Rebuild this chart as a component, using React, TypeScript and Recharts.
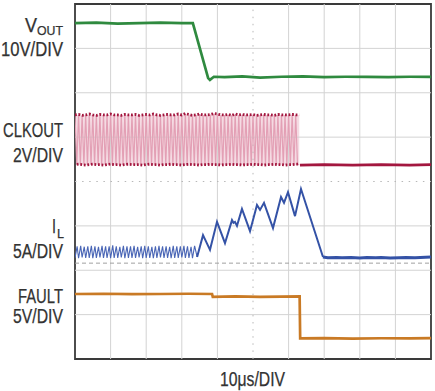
import React from 'react';
import { LineChart, Line, XAxis, YAxis, ReferenceLine, ReferenceArea } from 'recharts';

// screen is 10 divisions of 10us wide, 8 divisions tall (values below are in divisions)
const gridTimes = [10, 20, 30, 40, 60, 70, 80, 90];
const gridDivs = [1, 2, 3, 5, 6, 7];
const centerTime = 50;
const centerDiv = 4;
const ilZeroDiv = 2.16;

// VOUT, 10V/DIV
const voutTime = [0, 6, 12, 18, 24, 30, 33.1, 37.4, 37.9, 39.0, 42, 47, 52, 58, 64, 70, 76, 82, 88, 94, 100];
const voutDiv = [7.57, 7.58, 7.56, 7.57, 7.58, 7.57, 7.57, 6.33, 6.29, 6.36, 6.35, 6.37, 6.34, 6.36, 6.37, 6.35, 6.36, 6.36, 6.35, 6.36, 6.36];

// CLKOUT, 2V/DIV : one high and one low reading per 1us switching cycle
const clkHigh = [
  5.5, 5.51, 5.49, 5.5, 5.52, 5.5, 5.49, 5.51, 5.5, 5.5,
  5.52, 5.5, 5.5, 5.49, 5.51, 5.5, 5.5, 5.51, 5.49, 5.5,
  5.51, 5.5, 5.52, 5.5, 5.49, 5.5, 5.51, 5.5, 5.5, 5.52,
  5.5, 5.53, 5.51, 5.49, 5.5, 5.52, 5.5, 5.5, 5.51, 5.53,
  5.52, 5.5, 5.5, 5.51, 5.49, 5.52, 5.5, 5.51, 5.5, 5.5,
  5.51, 5.49, 5.5, 5.51, 5.5, 5.5, 5.49, 5.51, 5.5, 5.5,
  5.5, 5.51, 5.5,
];
const clkLow = [
  4.38, 4.39, 4.38, 4.37, 4.38, 4.39, 4.38, 4.38, 4.37, 4.38,
  4.39, 4.38, 4.38, 4.37, 4.38, 4.39, 4.38, 4.38, 4.38, 4.37,
  4.38, 4.39, 4.38, 4.38, 4.37, 4.38, 4.38, 4.39, 4.38, 4.38,
  4.37, 4.38, 4.39, 4.38, 4.38, 4.37, 4.38, 4.38, 4.39, 4.38,
  4.38, 4.37, 4.38, 4.38, 4.39, 4.38, 4.38, 4.37, 4.38, 4.38,
  4.39, 4.38, 4.38, 4.37, 4.38, 4.38, 4.39, 4.38, 4.38, 4.37,
  4.38, 4.38, 4.39,
];
const clkPeriod = 1;
const clkIdleTime = [63.2, 70, 78, 86, 94, 100];
const clkIdleDiv = [4.37, 4.38, 4.37, 4.38, 4.37, 4.38];

// IL, 5A/DIV : ripple before the fault, then the current-limit staircase and decay
const ilPeak = [
  2.54, 2.55, 2.53, 2.54, 2.55, 2.54, 2.53, 2.55, 2.54, 2.54,
  2.56, 2.54, 2.53, 2.55, 2.54, 2.54, 2.55, 2.53, 2.54, 2.55,
  2.54, 2.53, 2.54, 2.55, 2.54, 2.54, 2.53, 2.55, 2.54, 2.54,
  2.55, 2.54, 2.53, 2.55,
];
const ilValley = [
  2.28, 2.27, 2.29, 2.28, 2.28, 2.27, 2.28, 2.29, 2.28, 2.28,
  2.27, 2.28, 2.28, 2.29, 2.27, 2.28, 2.28, 2.28, 2.29, 2.27,
  2.28, 2.28, 2.27, 2.28, 2.29, 2.28, 2.28, 2.27, 2.28, 2.28,
  2.29, 2.28, 2.28, 2.27,
];
const ilEventTime = [34.3, 35.96, 37.92, 39.89, 42.13, 44.1, 44.52, 44.94, 45.5, 46.9, 49.16, 51.12, 51.97, 53.09, 55.62, 57.87, 58.71, 59.83, 61.8, 63.48, 69.66];
const ilEventDiv = [2.3, 2.79, 2.46, 3.09, 2.61, 3.13, 3.07, 3.09, 3.0, 3.38, 2.88, 3.47, 3.36, 3.52, 2.95, 3.65, 3.52, 3.76, 3.22, 3.83, 2.3];
const ilTailTime = [69.66, 71, 73.5, 75, 77.5, 80, 82, 84.5, 86, 88.5, 91, 93, 95.5, 97, 100];
const ilTailDiv = [2.3, 2.28, 2.29, 2.28, 2.285, 2.275, 2.285, 2.28, 2.29, 2.275, 2.28, 2.285, 2.28, 2.29, 2.3];

// FAULT, 5V/DIV
const faultTime = [0, 8, 16, 24, 32, 38.5, 38.7, 45, 52, 58, 63.1, 63.25, 70, 78, 86, 94, 100];
const faultDiv = [1.465, 1.47, 1.46, 1.465, 1.47, 1.465, 1.4, 1.41, 1.4, 1.405, 1.41, 0.466, 0.47, 0.46, 0.468, 0.465, 0.47];

const pairs = (ts: number[], vs: number[]) => ts.map((t, i) => ({ t, v: vs[i] }));

const voutData = pairs(voutTime, voutDiv);
const faultData = pairs(faultTime, faultDiv);

// clock: pale edges, dark dashed plateaus on top and bottom
const clkEdgeData: { t: number; v: number }[] = [];
const clkTopData: { t: number; v: number }[] = [];
const clkBottomData: { t: number; v: number }[] = [];
clkHigh.forEach((h, i) => {
  const t0 = i * clkPeriod;
  const half = clkPeriod / 2;
  clkEdgeData.push({ t: t0, v: h }, { t: t0 + half, v: clkLow[i] });
  clkTopData.push({ t: t0, v: h });
  clkBottomData.push({ t: t0, v: clkLow[i] });
});
clkEdgeData.push({ t: clkHigh.length * clkPeriod, v: clkIdleDiv[0] });
clkTopData.push({ t: clkHigh.length * clkPeriod, v: clkHigh[clkHigh.length - 1] });
clkBottomData.push({ t: clkHigh.length * clkPeriod, v: clkLow[clkLow.length - 1] });
const clkIdleData = pairs(clkIdleTime, clkIdleDiv);

const ilRippleData: { t: number; v: number }[] = [];
ilValley.forEach((lo, i) => {
  ilRippleData.push({ t: i * clkPeriod, v: lo }, { t: i * clkPeriod + 0.6, v: ilPeak[i] });
});
ilRippleData.push({ t: ilEventTime[0], v: ilEventDiv[0] });
const ilEventData = pairs(ilEventTime, ilEventDiv);
const ilTailData = pairs(ilTailTime, ilTailDiv);

const W = 435;
const H = 391;
const ink = '#333333';
const font = '"Liberation Sans", Arial, sans-serif';

const Labels = () => (
  <svg width={W} height={H} style={{ position: 'absolute', left: 0, top: 0, pointerEvents: 'none' }}>
    <g fill={ink} fontFamily={font} stroke={ink} strokeWidth={0.25}>
      <text x={25} y={32} fontSize={20} textLength={12} lengthAdjust="spacingAndGlyphs">V</text>
      <text x={37} y={35} fontSize={13} textLength={26} lengthAdjust="spacingAndGlyphs">OUT</text>
      <text x={1} y={56} fontSize={20} textLength={62} lengthAdjust="spacingAndGlyphs">10V/DIV</text>
      <text x={3} y={137} fontSize={20} textLength={60} lengthAdjust="spacingAndGlyphs">CLKOUT</text>
      <text x={13} y={162} fontSize={20} textLength={50} lengthAdjust="spacingAndGlyphs">2V/DIV</text>
      <text x={52} y={233} fontSize={20} textLength={4} lengthAdjust="spacingAndGlyphs">I</text>
      <text x={57} y={238} fontSize={13} textLength={7} lengthAdjust="spacingAndGlyphs">L</text>
      <text x={13} y={258} fontSize={20} textLength={50} lengthAdjust="spacingAndGlyphs">5A/DIV</text>
      <text x={18} y={303} fontSize={20} textLength={45} lengthAdjust="spacingAndGlyphs">FAULT</text>
      <text x={13} y={323} fontSize={20} textLength={50} lengthAdjust="spacingAndGlyphs">5V/DIV</text>
      <text x={220} y={386} fontSize={20} textLength={65} lengthAdjust="spacingAndGlyphs">10μs/DIV</text>
    </g>
  </svg>
);

export default function App() {
  return (
    <div style={{ position: 'absolute', left: 0, top: 0, width: W, height: H, background: '#fff' }}>
      <LineChart width={W} height={H} margin={{ top: 4, right: 4, left: 75, bottom: 32 }}>
        <XAxis dataKey="t" type="number" domain={[0, 100]} hide allowDataOverflow />
        <YAxis type="number" domain={[0, 8]} hide allowDataOverflow />
        {gridTimes.map((t) => (
          <ReferenceLine key={'gx' + t} x={t} stroke="#d3d3d3" strokeWidth={1} />
        ))}
        {gridDivs.map((d) => (
          <ReferenceLine key={'gy' + d} y={d} stroke="#d3d3d3" strokeWidth={1} />
        ))}
        <ReferenceLine x={centerTime} stroke="#b8b8b8" strokeDasharray="1.5 5.6" />
        <ReferenceLine y={centerDiv} stroke="#b8b8b8" strokeDasharray="1.5 5.6" />
        <ReferenceLine y={ilZeroDiv} stroke="#a0a0a0" strokeDasharray="4 3" />
        <ReferenceArea
          x1={0}
          x2={clkHigh.length * clkPeriod}
          y1={clkLow[0]}
          y2={clkHigh[0]}
          fill="#f5dbe3"
          fillOpacity={1}
          stroke="none"
        />
        <Line data={clkEdgeData} dataKey="v" type="linear" stroke="#e3a0b5" strokeWidth={1.2} dot={false} isAnimationActive={false} />
        <Line data={clkTopData} dataKey="v" type="linear" stroke="#a3173f" strokeWidth={2.8} strokeDasharray="1.8 1.76" dot={false} isAnimationActive={false} />
        <Line data={clkBottomData} dataKey="v" type="linear" stroke="#a3173f" strokeWidth={2.8} strokeDasharray="1.8 1.76" strokeDashoffset={-1.78} dot={false} isAnimationActive={false} />
        <Line data={clkIdleData} dataKey="v" type="linear" stroke="#a3173f" strokeWidth={2.6} dot={false} isAnimationActive={false} />
        <Line data={voutData} dataKey="v" type="linear" stroke="#2f8a3f" strokeWidth={2.7} dot={false} isAnimationActive={false} />
        <Line data={ilRippleData} dataKey="v" type="linear" stroke="#4a66b6" strokeWidth={1.1} dot={false} isAnimationActive={false} />
        <Line data={ilEventData} dataKey="v" type="linear" stroke="#3452a6" strokeWidth={2} dot={false} isAnimationActive={false} />
        <Line data={ilTailData} dataKey="v" type="linear" stroke="#3452a6" strokeWidth={3} dot={false} isAnimationActive={false} />
        <Line data={faultData} dataKey="v" type="linear" stroke="#c97a25" strokeWidth={2.7} dot={false} isAnimationActive={false} />
        <ReferenceArea x1={0} x2={100} y1={0} y2={8} fill="none" stroke="#3a3a3a" strokeWidth={1.8} />
      </LineChart>
      <Labels />
    </div>
  );
}
